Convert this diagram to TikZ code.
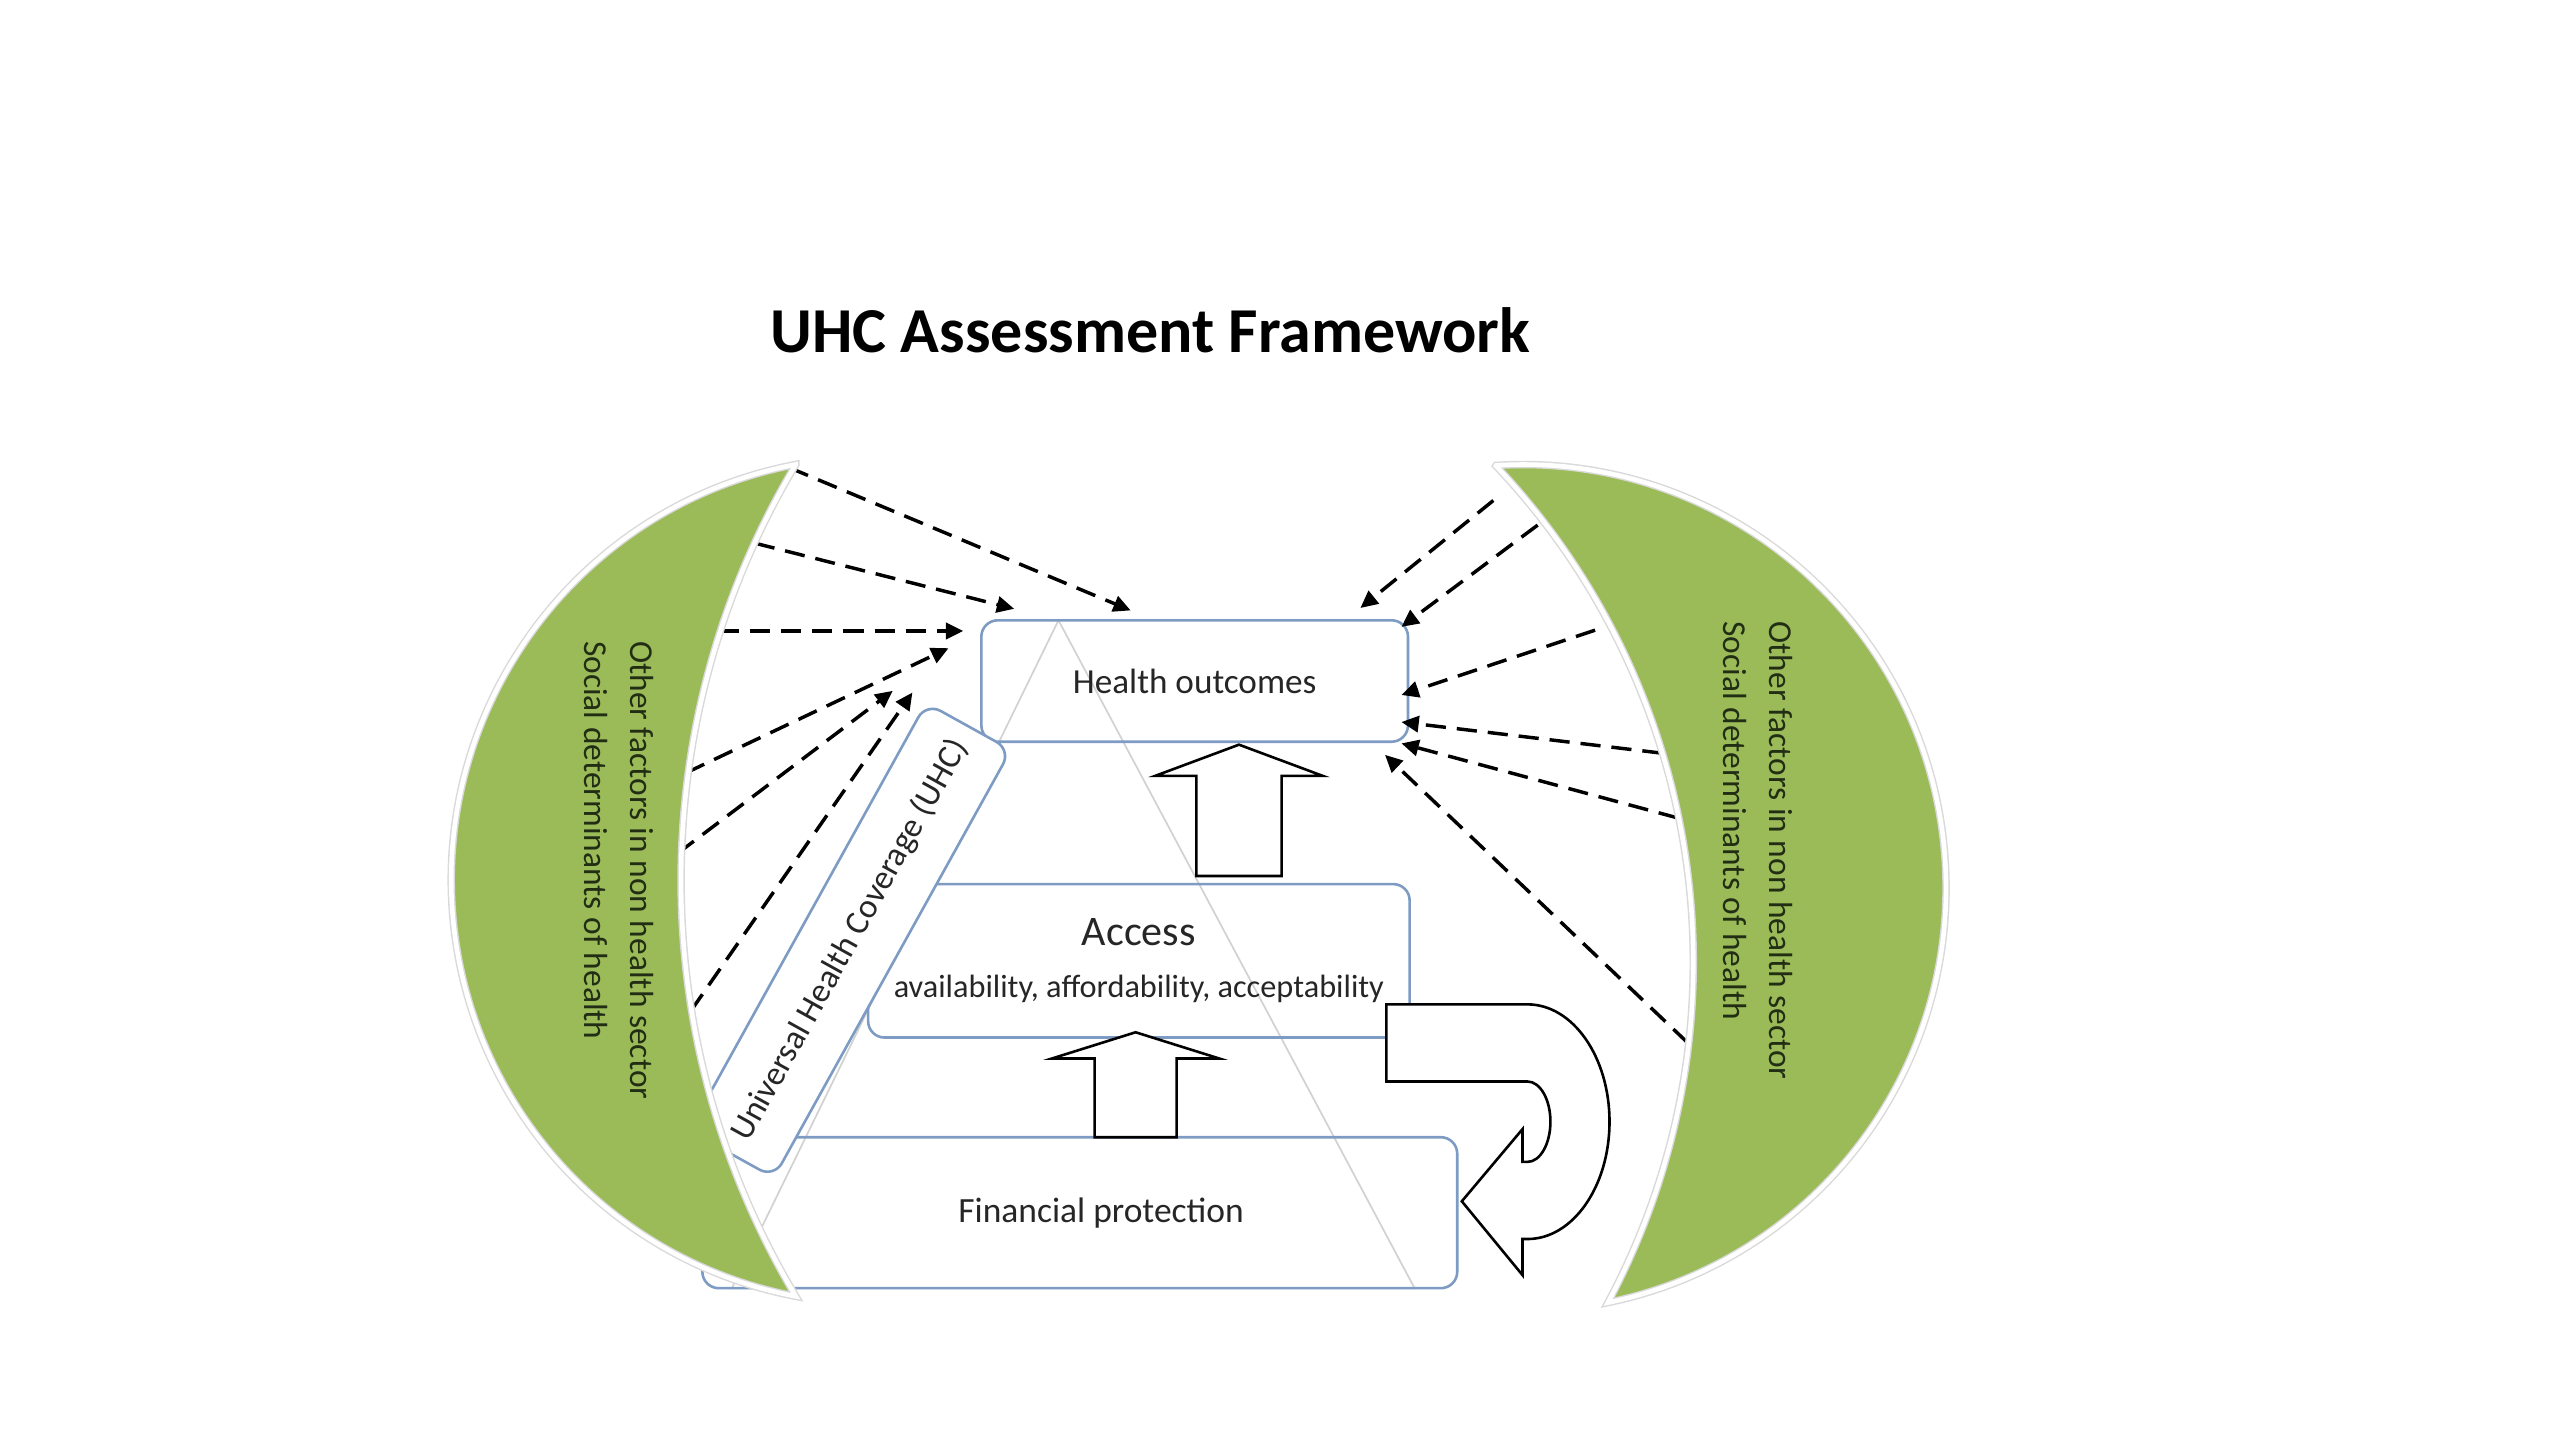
\documentclass[tikz,border=0pt]{standalone}
\usepackage{fontspec}
\setmainfont{Carlito}
\usepackage{tikz}
\usetikzlibrary{positioning}
\usetikzlibrary{calc}
\usetikzlibrary{arrows.meta}
\definecolor{leafgreen}{RGB}{155,187,89}
\definecolor{boxblue}{RGB}{125,155,195}
\definecolor{inkgrey}{RGB}{38,38,38}
\definecolor{leafink}{RGB}{34,46,20}
\tikzstyle{box} = [draw=boxblue, line width=0.45pt, rounded corners=1mm, text=inkgrey, inner sep=0pt]
\tikzstyle{uhcbox} = [box, fill=white, rotate=61, minimum width=29.8mm, minimum height=5.9mm]
\tikzstyle{dasharrow} = [line width=0.6pt, dash pattern=on 3.5pt off 1.9pt, -{Triangle[length=3pt,width=2.8pt]}]
\tikzstyle{blockarrow} = [draw=black, line width=0.45pt, fill=white, line join=miter]
\tikzstyle{leaf} = [fill=leafgreen, draw=gray!30, line width=0.25pt, double=white, double distance=0.8pt]
\tikzstyle{leaflabel} = [text=leafink, rotate=-90, anchor=west, align=left, inner sep=0pt, font=\fontsize{5.8}{8}\selectfont]

\begin{document}
\begin{tikzpicture}[x=0.1mm,y=-0.1mm]
\useasboundingbox (0,0) rectangle (1560,877.5);
\node[font=\fontsize{11.1}{13}\selectfont\bfseries] (title) at (701,201) {UHC Assessment Framework};
% pyramid outline behind the boxes
\draw[gray!35, line width=0.3pt] (645,378) -- (862,785) -- (446,785) -- cycle;
\node[box, minimum width=26mm, minimum height=7.4mm, font=\fontsize{6.1}{7}\selectfont] (ho) at (728,415) {Health outcomes};
\node[box, minimum width=33mm, minimum height=9.35mm, align=center, font=\fontsize{5.6}{9.1}\selectfont] (acc) at (694,585.5) {\raisebox{-0.6pt}{\fontsize{7.3}{9.1}\selectfont Access}\\\raisebox{-0.6pt}{availability, affordability, acceptability}};
\node[box, minimum width=46mm, minimum height=9.2mm, font=\fontsize{6.15}{7}\selectfont] (fp) at (658,739) {\hspace*{2.6mm}Financial protection};
% block arrows
\draw[blockarrow] ($(ho.south)+(27,1)$) -- ++(51,19) -- ++(-25,0) -- ++(0,61) -- ++(-52,0) -- ++(0,-61) -- ++(-25,0) -- cycle;
\draw[blockarrow] ($(acc.south)+(-2,-4)$) -- ++(51,16) -- ++(-26,0) -- ++(0,48) -- ++(-50,0) -- ++(0,-48) -- ++(-26,0) -- cycle;
\coordinate (turn) at ($(acc.south east)+(-15,-21)$);
\draw[blockarrow] (turn) -- ++(86,0) arc[start angle=-90, end angle=90, x radius=50, y radius=71.5]
  -- ++(-3,0) -- ++(0,22) -- ++(-37,-45) -- ++(37,-44) -- ++(0,20) -- ++(3,0)
  arc[start angle=90, end angle=-90, x radius=14, y radius=24.5] -- ++(-86,0) -- cycle;
% dashed arrows, left side
\coordinate (l1) at (481,285);   \coordinate (h1) at (689,372);
\coordinate (l2) at (460,331);   \coordinate (h2) at (618,371);
\coordinate (l3) at (438,384.5); \coordinate (h3) at (587,384.5);
\coordinate (l4) at (418,471);   \coordinate (h4) at (578,395);
\coordinate (l5) at (413,520);   \coordinate (h5) at (544,421);
\coordinate (l6) at (421,616);   \coordinate (h6) at (556,422);
\draw[dasharrow] (l1) -- (h1);
\draw[dasharrow] (l2) -- (h2);
\draw[dasharrow] (l3) -- (h3);
\draw[dasharrow] (l4) -- (h4);
\draw[dasharrow] (l5) -- (h5);
\draw[dasharrow] (l6) -- (h6);
% dashed arrows, right side
\coordinate (r1) at (910,305);     \coordinate (k1) at (829,370.5);
\coordinate (r2) at (937,320);     \coordinate (k2) at (854,382);
\coordinate (r3) at (972,384);     \coordinate (k3) at (854,423.5);
\coordinate (r4) at (1013,459);    \coordinate (k4) at (854,440);
\coordinate (r5) at (1022.6,498.5);\coordinate (k5) at (854,453);
\coordinate (r6) at (1028.6,635.6);\coordinate (k6) at (844,460);
\draw[dasharrow] (r1) -- (k1);
\draw[dasharrow] (r2) -- (k2);
\draw[dasharrow] (r3) -- (k3);
\draw[dasharrow] (r4) -- (k4);
\draw[dasharrow] (r5) -- (k5);
\draw[dasharrow] (r6) -- (k6);
\node[uhcbox, font=\fontsize{5.9}{7}\selectfont] (uhc) at (518,573) {Universal Health Coverage (UHC)};
% the two green crescents
\draw[leaf] (485,283) arc[start angle=259.28, end angle=100.72, radius=258]
  arc[start angle=149.13, end angle=210.87, radius=494] -- cycle;
\draw[leaf] (911.7,283.6) arc[start angle=-93.6, end angle=78.4, radius=258]
  arc[start angle=28.16, end angle=-43.4, radius=440] -- cycle;
\node[leaflabel] (lsd) at (377,390) {Other factors in non health sector\\Social determinants of health};
\node[leaflabel] (rsd) at (1071.5,378) {Other factors in non health sector\\Social determinants of health};
\end{tikzpicture}
\end{document}
